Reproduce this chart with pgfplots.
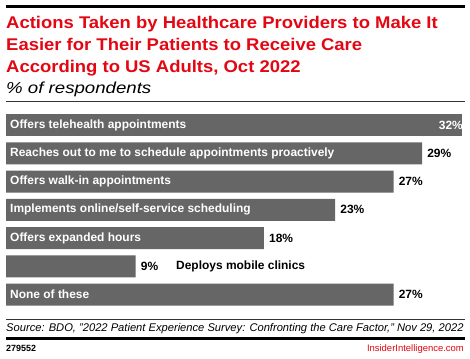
\documentclass[border=0pt]{standalone}
\usepackage{pgfplots}
\pgfplotsset{compat=1.18}
\usepackage{pgfplotstable}
\usepackage{fontspec}
\setmainfont{Liberation Sans}
\definecolor{eRed}{RGB}{227,6,19}
\definecolor{barg}{RGB}{102,102,102}
\pgfplotstableread{
i v lab
1 29.2 29\%
2 27.2 27\%
3 23.1 23\%
4 18.1 18\%
5 9.1 9\%
6 27.2 27\%
}\rest
\pgfplotstableread{
i v lab
0 32 32\%
}\first
\newcommand\ttl[1]{\scalebox{1.09}[1]{#1}}
\begin{document}
\begin{tikzpicture}[x=1bp,y=1bp]
\path (0,0) rectangle (470,358);
\draw[line width=3bp] (6,351.5) -- (465,351.5);
\node[anchor=base west, inner sep=0, text=eRed, font=\bfseries\fontsize{17}{19}\selectfont] at (6,330) {\ttl{Actions Taken by Healthcare Providers to Make It}};
\node[anchor=base west, inner sep=0, text=eRed, font=\bfseries\fontsize{17}{19}\selectfont] at (6,308) {\ttl{Easier for Their Patients to Receive Care}};
\node[anchor=base west, inner sep=0, text=eRed, font=\bfseries\fontsize{17}{19}\selectfont] at (6,286) {\ttl{According to US Adults, Oct 2022}};
\node[anchor=base west, inner sep=0, font=\itshape\fontsize{16}{18}\selectfont] at (6,264.5) {\scalebox{1.17}[1]{\% of respondents}};
\draw[line width=0.8bp, black!80] (6,256.3) -- (465,256.3);
\begin{axis}[at={(6bp,247.1bp)}, anchor=north west, scale only axis,
  width=456bp, height=197.75bp, xmin=0, xmax=32, ymin=-0.5, ymax=6.5,
  y dir=reverse, axis lines=none, xbar, bar width=22bp, clip=false,
  point meta=explicit symbolic]
\addplot[fill=barg, draw=none, bar shift=0pt, nodes near coords,
  nodes near coords style={font=\fontsize{12}{14}\selectfont\bfseries, text=black, anchor=west, inner sep=0, xshift=5bp}] table[x=v, y=i, meta=lab] {\rest};
\addplot[fill=barg, draw=none, bar shift=0pt] table[x=v, y=i, meta=lab] {\first};
\begin{scope}[every node/.style={anchor=west, inner sep=0, xshift=4bp, text=white, font=\fontsize{12}{14}\selectfont\bfseries}]
\node at (axis cs:0,0) {Offers telehealth appointments};
\node at (axis cs:0,1) {Reaches out to me to schedule appointments proactively};
\node at (axis cs:0,2) {Offers walk-in appointments};
\node at (axis cs:0,3) {Implements online/self-service scheduling};
\node at (axis cs:0,4) {Offers expanded hours};
\node at (axis cs:0,6) {None of these};
\node[anchor=east, xshift=-3bp] at (axis cs:32,0) {32\%};
\end{scope}
\end{axis}
\node[anchor=west, inner sep=0, font=\fontsize{12}{14}\selectfont\bfseries] at (176,91.7) {Deploys mobile clinics};
\draw[line width=0.8bp, black!80] (6,38.7) -- (465,38.7);
\node[anchor=base west, inner sep=0, font=\itshape\fontsize{11.2}{13}\selectfont] at (6,26.3) {Source: BDO, "2022 Patient Experience Survey: Confronting the Care Factor," Nov 29, 2022};
\draw[line width=2.5bp] (6,19.3) -- (465,19.3);
\node[anchor=base west, inner sep=0, font=\bfseries\fontsize{9}{10}\selectfont] at (6,7) {279552};
\node[anchor=base east, inner sep=0, text=eRed, font=\fontsize{9.5}{10}\selectfont] at (464,7) {InsiderIntelligence.com};
\end{tikzpicture}
\end{document}
